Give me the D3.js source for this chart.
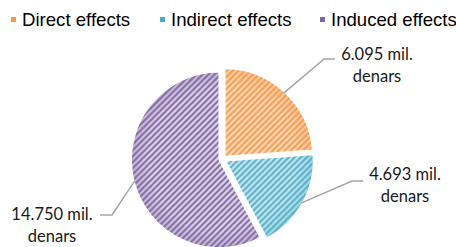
<!DOCTYPE html>
<html>
<head>
<meta charset="utf-8">
<script src="https://cdn.jsdelivr.net/npm/d3@7"></script>
<style>
  html, body { margin: 0; padding: 0; background: #fff; }
  svg { display: block; }
</style>
</head>
<body>
<svg id="chart" width="456" height="247"></svg>
<script>
// data
var categories = ['Direct effects', 'Indirect effects', 'Induced effects'];
var values = [6.095, 4.693, 14.750];
var valueLabels = ['6.095 mil.', '4.693 mil.', '14.750 mil.'];
var unitLabel = 'denars';

var colors = ['#f79646', '#4bacc6', '#8064a2'];
var lightColors = ['#fcdcc0', '#cce9f1', '#e0d8eb'];

var svg = d3.select('#chart');
var W = 456, H = 247;
var cx = 222.5, cy = 159, R = 88, explode = 3.4;

var defs = svg.append('defs');

// diagonal hatch patterns, one per slice
colors.forEach(function(c, i) {
	var p = defs.append('pattern')
		.attr('id', 'hatch' + i)
		.attr('patternUnits', 'userSpaceOnUse')
		.attr('width', 6).attr('height', 6);
	p.append('rect').attr('width', 6).attr('height', 6).attr('fill', lightColors[i]);
	p.append('path')
		.attr('d', 'M-1,1 L1,-1 M0,6 L6,0 M5,7 L7,5')
		.attr('stroke', c)
		.attr('stroke-width', 2)
		.attr('stroke-opacity', 0.95);
	// soft darker rim like the reference
	var g = defs.append('radialGradient')
		.attr('id', 'rim' + i)
		.attr('gradientUnits', 'userSpaceOnUse')
		.attr('cx', 0).attr('cy', 0)
		.attr('r', R);
	g.append('stop').attr('offset', '0.8').attr('stop-color', c).attr('stop-opacity', 0);
	g.append('stop').attr('offset', '1').attr('stop-color', c).attr('stop-opacity', 0.3);
});

var pie = d3.pie().sort(null).value(function(d) { return d; });
var arcs = pie(values);
var arc = d3.arc().innerRadius(0).outerRadius(R);

var slices = svg.append('g').attr('class', 'slices');
arcs.forEach(function(a, i) {
	var mid = (a.startAngle + a.endAngle) / 2;
	var ox = cx + explode * Math.sin(mid);
	var oy = cy - explode * Math.cos(mid);
	var g = slices.append('g').attr('transform', 'translate(' + ox + ',' + oy + ')');
	g.append('path').attr('d', arc(a)).attr('fill', 'url(#hatch' + i + ')');
	g.append('path').attr('d', arc(a)).attr('fill', 'url(#rim' + i + ')');
	g.append('path').attr('d', arc(a))
		.attr('fill', 'none')
		.attr('stroke', '#fff')
		.attr('stroke-width', 1.5);
	a.ox = ox; a.oy = oy; a.mid = mid;
});

// label layout (positions only)
var labelPos = [
	{ elbow: [324, 59], end: [335, 59], tx: 377, ty: 60 },
	{ elbow: [352, 181], end: [363, 181], tx: 405, ty: 180 },
	{ elbow: [112, 215], end: [100, 215], tx: 52, ty: 220 }
];

var labels = svg.append('g').attr('class', 'labels');
arcs.forEach(function(a, i) {
	var lp = labelPos[i];
	var sx = a.ox + (R - 1) * Math.sin(a.mid);
	var sy = a.oy - (R - 1) * Math.cos(a.mid);
	labels.append('polyline')
		.attr('points', [[sx, sy], lp.elbow, lp.end].map(function(p) { return p.join(','); }).join(' '))
		.attr('fill', 'none')
		.attr('stroke', '#a6a6a6')
		.attr('stroke-width', 1.5);
	var t = labels.append('text')
		.attr('x', lp.tx).attr('y', lp.ty)
		.attr('text-anchor', 'middle')
		.attr('font-family', 'Lato, Carlito, Calibri, sans-serif')
		.attr('font-size', 16.5)
		.attr('fill', '#1a1a1a');
	t.append('tspan').attr('x', lp.tx).text(valueLabels[i]);
	t.append('tspan').attr('x', lp.tx).attr('dy', 22).text(unitLabel);
});

// legend
var legendX = [11, 160, 320];
var legend = svg.append('g').attr('class', 'legend');
categories.forEach(function(c, i) {
	legend.append('rect')
		.attr('x', legendX[i]).attr('y', 17)
		.attr('width', 5).attr('height', 5)
		.attr('fill', colors[i]);
	legend.append('text')
		.attr('x', legendX[i] + 11).attr('y', 26)
		.attr('font-family', '"Liberation Sans", Arial, sans-serif')
		.attr('font-size', 18.6)
		.attr('fill', '#000')
		.text(c);
});
</script>
</body>
</html>
